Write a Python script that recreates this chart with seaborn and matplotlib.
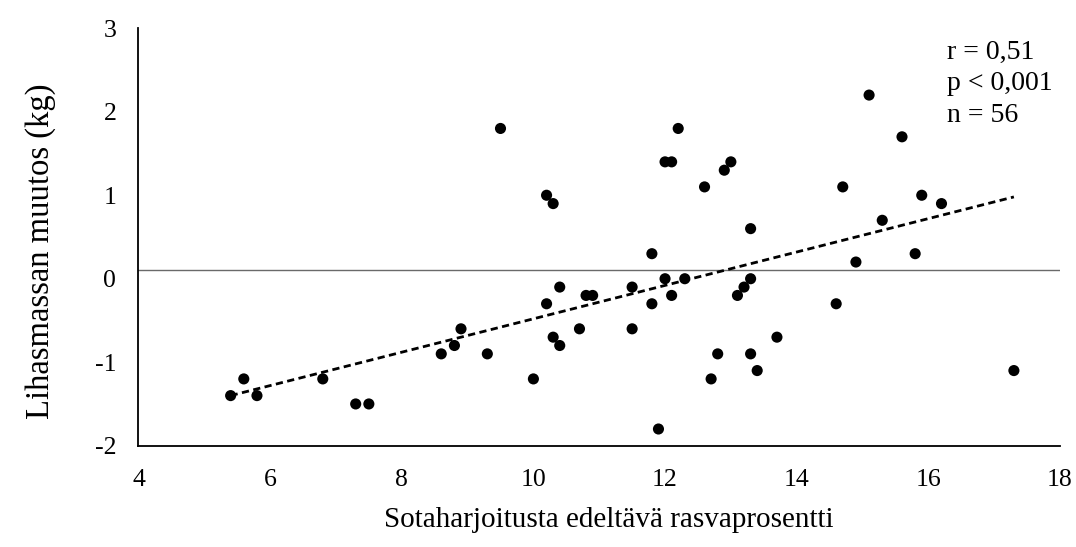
import matplotlib
matplotlib.use("Agg")
import matplotlib.pyplot as plt
import seaborn as sns
import numpy as np
import pandas as pd

# Data
fat_pct = [5.4, 5.6, 5.8, 6.8, 7.3, 7.5, 8.6, 8.8, 8.9, 9.3,
           9.5, 10.0, 10.2, 10.3, 10.2, 10.4, 10.3, 10.4, 10.7, 10.8,
           10.9, 11.5, 11.5, 11.8, 11.8, 11.9, 12.0, 12.1, 12.2, 12.0,
           12.1, 12.3, 12.6, 12.9, 13.0, 12.7, 12.8, 15.1, 15.6, 14.7,
           15.9, 16.2, 15.3, 13.3, 14.9, 15.8, 13.3, 13.2, 13.1, 14.6,
           13.7, 13.3, 13.4, 17.3]
muscle_change = [-1.4, -1.2, -1.4, -1.2, -1.5, -1.5, -0.9, -0.8, -0.6, -0.9,
                 1.8, -1.2, 1.0, 0.9, -0.3, -0.1, -0.7, -0.8, -0.6, -0.2,
                 -0.2, -0.1, -0.6, 0.3, -0.3, -1.8, 1.4, 1.4, 1.8, 0.0,
                 -0.2, 0.0, 1.1, 1.3, 1.4, -1.2, -0.9, 2.2, 1.7, 1.1,
                 1.0, 0.9, 0.7, 0.6, 0.2, 0.3, 0.0, -0.1, -0.2, -0.3,
                 -0.7, -0.9, -1.1, -1.1]
# linear trend line as shown in the reference (fitted on the full n = 56 data)
trend_slope = 0.20
trend_intercept = -2.48
x_ticks = [4, 6, 8, 10, 12, 14, 16, 18]
y_ticks = [-2, -1, 0, 1, 2, 3]
ref_line_y = 0.1
stats_text = ["r = 0,51", "p < 0,001", "n = 56"]
x_label = "Sotaharjoitusta edeltävä rasvaprosentti"
y_label = "Lihasmassan muutos (kg)"

df = pd.DataFrame({"x": fat_pct, "y": muscle_change})
trend_x = [min(fat_pct), max(fat_pct)]
trend_df = pd.DataFrame({"x": trend_x,
                         "y": [trend_intercept + trend_slope * v for v in trend_x]})

sns.set_theme(style="white")
plt.rcParams["font.family"] = ["Liberation Serif", "DejaVu Serif"]
plt.rcParams["axes.unicode_minus"] = False

fig = plt.figure(figsize=(10.76, 5.47), dpi=100)
ax = fig.add_axes([0.1287, 0.1852, 0.8564, 0.7631])

ax.axhline(ref_line_y, color="#6a6a6a", lw=1.0, zorder=1)

sns.lineplot(data=trend_df, x="x", y="y", ax=ax, color="black", lw=2.0,
             dashes=False, zorder=2).lines[-1].set_dashes((2.6, 1.6))
sns.scatterplot(data=df, x="x", y="y", ax=ax, s=64, color="black",
                edgecolor="none", zorder=3)

ax.set_xlim(4, 18)
ax.set_ylim(-2, 3)
ax.set_xticks(x_ticks)
ax.set_yticks(y_ticks)
ax.set_xticklabels([str(t) for t in x_ticks])
ax.set_yticklabels([str(t) for t in y_ticks])
ax.tick_params(axis="both", length=0, labelsize=18.5, colors="black")
ax.tick_params(axis="x", pad=17)
ax.tick_params(axis="y", pad=16)

for side in ["top", "right"]:
    ax.spines[side].set_visible(False)
for side in ["left", "bottom"]:
    ax.spines[side].set_color("black")
    ax.spines[side].set_linewidth(1.3)

ax.set_xlabel(x_label, fontsize=21, color="black")
ax.set_ylabel(y_label, fontsize=23.5, color="black")
ax.yaxis.set_label_coords(-0.089, 0.465)
ax.xaxis.set_label_coords(0.51, -0.146)

ax.text(16.29, 2.86, "\n".join(stats_text), fontsize=20, color="black",
        ha="left", va="top", linespacing=1.34)

fig.savefig("out.png", dpi=100)
